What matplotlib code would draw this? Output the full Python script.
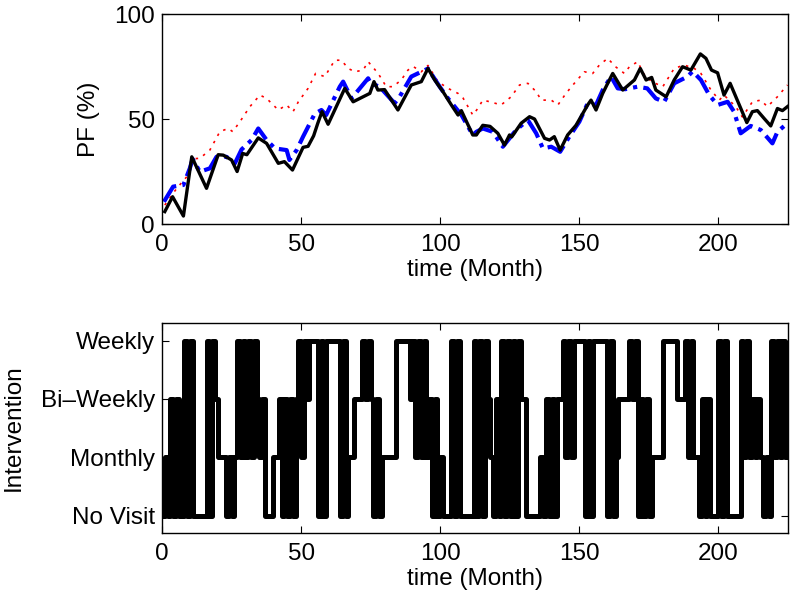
import matplotlib
matplotlib.use("Agg")
import matplotlib.pyplot as plt
import numpy as np

plt.rcParams['font.family'] = ['Liberation Sans', 'DejaVu Sans']

# ---- top panel data: PF (%) ----
black_t = [1, 3.8, 7.7, 10.7, 16, 20.2, 22, 25, 27, 29, 30.5, 34.6, 37.6, 41.8, 44, 46.9, 50.7, 52.5,
           54.5, 56, 57.5, 59.7, 65.7, 68.7, 74.7, 76.2, 77.6, 80, 84.8, 89.6, 93.2, 95.6, 98, 101, 104,
           106.4, 107.6, 111.7, 113, 115.3, 117.9, 120.7, 123.1, 124.9, 125.7, 129.1, 132.1, 133.9,
           137.5, 139.3, 141, 143.1, 145.8, 148.8, 153, 154.2, 156, 158.4, 160.2, 162, 165.6, 169.8,
           171.9, 174, 176, 177.5, 181.2, 184.1, 187.1, 190.1, 193.5, 195.5, 197.5, 199.7, 202, 204.2,
           207.5, 210.2, 212.2, 214, 216.4, 218.8, 221.2, 223, 224.8]
black_v = [5.9, 13, 3.8, 32, 17, 33, 32.8, 30.5, 25, 33.6, 33, 41, 38.4, 28.9, 29.7, 25.7, 36.5, 37,
           42, 48, 53.5, 47.5, 64.6, 58.2, 62.2, 67.8, 63.8, 64, 54.3, 66.2, 67.8, 74.1, 68.6, 63, 56.7,
           51.9, 54, 42.4, 42.4, 47, 46.5, 43.2, 37.6, 42.4, 41.5, 48, 51.1, 50,
           40.8, 40, 41.6, 35.2, 42.4, 47, 56.7, 59, 54.3, 62.2, 67, 71.7, 63.8, 68.6,
           74.1, 68.6, 69.8, 63.8, 60.6, 68.6, 74.9, 73.3, 81, 78.9, 73.3, 72, 61.4, 67,
           56.7, 48.3, 53.5, 54, 50.3, 46.7, 55, 54, 55.9]

blue_t = [0.7, 4, 7.7, 10, 11, 13.6, 17.2, 19.6, 23.2, 26.2, 28.6, 32.2, 34.6, 37.6, 40.6, 44.8, 45.8,
          48.4, 50.7, 54.9, 57.3, 59, 63.9, 65.1, 68.1, 74.1, 75, 78.2, 83.6, 85.4, 89.6, 93.2, 95.6,
          99.8, 102.8, 105.2, 107.6, 111.7, 113, 115.3, 118.9, 122.5, 127.3, 131.5, 134.5, 136.9,
          139.9, 143.1, 146.4, 150, 153, 156, 158.4, 161.4, 163.8, 166.5, 171, 174.4, 177.5, 180.5,
          184.1, 188.9, 190.7, 193.7, 196.7, 199.7, 203.3, 205.6, 208, 211.6, 215.2, 219.4, 221.2, 224.8]
blue_v = [10.6, 17.8, 18.6, 26.5, 31, 24.9, 26.5, 32, 32, 28.9, 35.5, 40, 45.5, 40, 36, 35.2, 30.5,
          35.2, 41.6, 52.5, 54.3, 51.9, 65.4, 67.8, 59.8, 69.4, 67, 65.4, 57.5, 60.6, 70.2, 72.5, 74,
          65.4, 59.8, 55.9, 52, 42.4, 43.9, 45.5, 43.9, 36.8, 44.8, 49.5, 43.2, 36,
          36.8, 34.4, 41.6, 48.7, 57.5, 56.7, 63.8, 70.2, 64.6, 64.2, 65.4, 64.6, 59.8, 58.2,
          67, 70.2, 72.7, 68.6, 61.4, 56.7, 58.2, 53.5, 43.2, 46.7, 44.8, 38.4, 43.9, 48]

red_t = [1, 5.3, 8.9, 10.7, 13.6, 17.2, 20.8, 23.8, 25.4, 28, 31.6, 35.2, 37.6, 41.8, 44.8, 47.1, 49,
         52.5, 55.2, 58.5, 62.1, 64.5, 66.9, 69.3, 72.3, 74.1, 77.7, 80.6, 83, 86, 88.4, 90.3, 93.2,
         95.6, 99.2, 102.8, 106.4, 108.2, 111.7, 113.5, 115.3, 117.9, 121.9, 125.5, 128.5, 131.5,
         134.5, 136.3, 139.9, 142.3, 145.2, 148.2, 151.8, 154.8, 157.2, 160.2, 163, 166.2, 168, 171,
         173, 176, 180, 184.1, 187.7, 191.3, 193.7, 197.3, 200.3, 202, 206.2, 208.6, 212.2, 215.2,
         217.6, 221.2, 224.8]
red_v = [9, 17, 22.5, 31, 31.3, 35.2, 44, 45.5, 44, 48.7, 55.9, 61.4, 59.8, 54.3, 56.7, 53.5, 58.2,
         64.6, 71.7, 70.2, 78, 78, 74.1, 72.5, 73.3, 77.3, 71.7, 65.4, 65.4, 68.6, 73.3, 75, 72.5,
         75.5, 67.8, 64.6, 62.2, 60, 51.9, 55, 59, 58.2, 56.7, 60.6, 66.2, 67,
         63, 59, 59, 56.7, 62.2, 67, 72.5, 71.7, 75.7, 78.9, 74.9, 71.7, 74.9, 77.3,
         71.7, 67.8, 65.4, 74.1, 75.7, 74.1, 71.7, 63.8, 59, 61.4, 55.9, 51, 58.2, 59,
         55.9, 60.6, 66.2]

# ---- bottom panel data: intervention level per month (0=No Visit ... 3=Weekly) ----
intervention = [
    0, 1, 0, 2, 0, 2, 0, 0, 3, 0, 3, 0, 0, 0, 0,
    0, 3, 0, 3, 2, 1, 1, 1, 0, 1, 0, 1, 3, 1, 3,
    1, 3, 1, 3, 2, 1, 2, 0, 0, 0, 1, 1, 2, 0, 2,
    0, 2, 0, 2, 3, 1, 3, 2, 3, 3, 3, 0, 3, 0, 3,
    3, 3, 3, 3, 0, 3, 0, 1, 1, 2, 2, 2, 3, 2, 3,
    2, 0, 2, 0, 1, 1, 1, 1, 1, 3, 3, 3, 3, 3, 2,
    3, 1, 3, 1, 3, 1, 2, 0, 2, 0, 1, 0, 0, 0, 3,
    0, 3, 0, 0, 0, 0, 0, 3, 0, 3, 0, 3, 2, 1, 0,
    2, 0, 3, 0, 3, 0, 3, 0, 3, 2, 2, 0, 0, 0, 0,
    0, 1, 0, 2, 0, 2, 0, 2, 2, 3, 1, 3, 1, 3, 3,
    3, 3, 0, 3, 0, 3, 3, 3, 3, 3, 0, 3, 0, 1, 2,
    2, 2, 2, 3, 2, 3, 0, 2, 0, 2, 0, 1, 1, 1, 1,
    3, 3, 3, 3, 3, 2, 2, 2, 3, 1, 3, 1, 1, 0, 2,
    0, 2, 0, 0, 0, 3, 0, 3, 0, 0, 0, 0, 0, 3, 1,
    3, 1, 2, 1, 2, 1, 0, 1, 0, 3, 1, 3, 1, 3, 1,
]
level_labels = ['No Visit', 'Monthly', 'Bi\u2013Weekly', 'Weekly']
x_ticks = [0, 50, 100, 150, 200]
pf_ticks = [0, 50, 100]

fig = plt.figure(figsize=(8.0, 6.02), dpi=100)
ax1 = fig.add_axes([0.2025, 0.6279, 0.7825, 0.3488])
ax2 = fig.add_axes([0.2025, 0.1146, 0.7825, 0.3488])

FS = 17.5

ax1.plot(red_t, red_v, color=(1, 0, 0), lw=1.2, linestyle=(0, (1.5, 3.5)))
ax1.plot(blue_t, blue_v, color=(0, 0, 1), lw=3.0, linestyle=(0, (5, 1.5, 1, 1.5)))
ax1.plot(black_t, black_v, color='k', lw=2.4, solid_joinstyle='round')
ax1.set_xlim(0, 225)
ax1.set_ylim(0, 100)
ax1.set_xticks(x_ticks)
ax1.set_yticks(pf_ticks)
ax1.set_xlabel('time (Month)', fontsize=FS)
ax1.set_ylabel('PF (%)', fontsize=FS)
ax1.xaxis.set_label_coords(0.5, -0.165)
ax1.yaxis.set_label_coords(-0.099, 0.5)

months = np.arange(len(intervention) + 1)
vals = intervention + [intervention[-1]]
ax2.plot(months, vals, drawstyle='steps-post', color='k', lw=3.6,
         solid_joinstyle='round', solid_capstyle='round')
ax2.set_xlim(0, 225)
ax2.set_ylim(-0.3, 3.3)
ax2.set_xticks(x_ticks)
ax2.set_yticks([0, 1, 2, 3])
ax2.set_yticklabels(level_labels)
ax2.set_xlabel('time (Month)', fontsize=FS)
ax2.set_ylabel('Intervention', fontsize=FS)
ax2.xaxis.set_label_coords(0.5, -0.165)
ax2.yaxis.set_label_coords(-0.219, 0.5)

for ax in (ax1, ax2):
    ax.tick_params(direction='in', top=True, right=True, labelsize=FS, length=5, width=0.8)
    ax.tick_params(axis='x', pad=7.5)
    ax.tick_params(axis='y', pad=5)
    for s in ax.spines.values():
        s.set_linewidth(1.0)

fig.savefig('out.png', dpi=100)
